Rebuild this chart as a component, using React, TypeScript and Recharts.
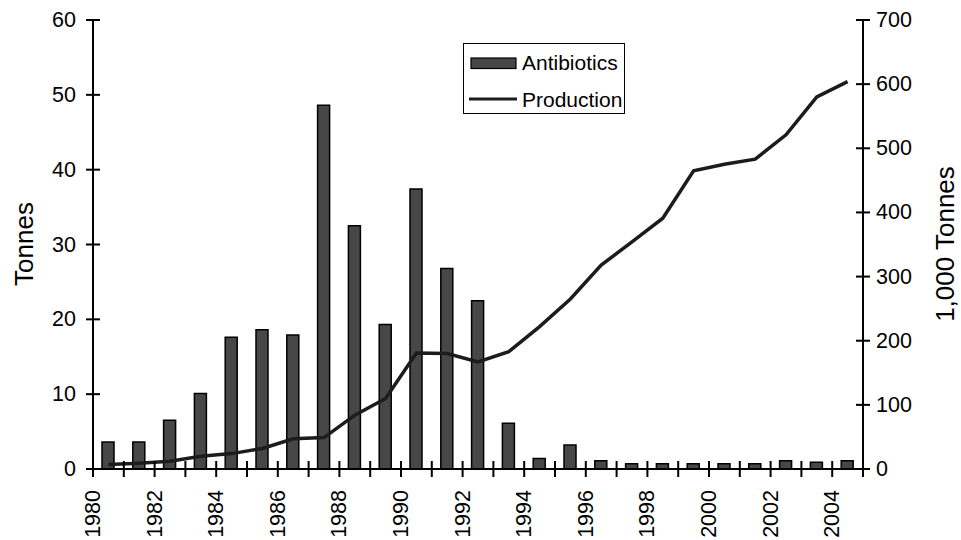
import { Bar, ComposedChart, Legend, Line, XAxis, YAxis } from 'recharts';

const YEARS = [
  '1980', '1981', '1982', '1983', '1984', '1985', '1986', '1987', '1988', '1989',
  '1990', '1991', '1992', '1993', '1994', '1995', '1996', '1997', '1998', '1999',
  '2000', '2001', '2002', '2003', '2004',
];
const LABEL_YEARS = ['1980', '1982', '1984', '1986', '1988', '1990', '1992', '1994', '1996', '1998', '2000', '2002', '2004'];

// Tonnes of antibiotics (left axis)
const ANTIBIOTICS = [
  3.6, 3.6, 6.5, 10.1, 17.6, 18.6, 17.9, 48.6, 32.5, 19.3,
  37.4, 26.8, 22.5, 6.1, 1.4, 3.2, 1.1, 0.7, 0.7, 0.7,
  0.7, 0.7, 1.1, 0.9, 1.1,
];
// Production, 1,000 tonnes (right axis)
const PRODUCTION = [
  7, 9, 12, 20, 24, 32, 47, 49, 84, 110,
  181, 180, 167, 183, 222, 265, 318, 354, 391, 465,
  475, 483, 521, 580, 604,
];

const LEFT_TICKS = [0, 10, 20, 30, 40, 50, 60];
const RIGHT_TICKS = [0, 100, 200, 300, 400, 500, 600, 700];

const data = YEARS.map((year, i) => ({
  year,
  antibiotics: ANTIBIOTICS[i],
  production: PRODUCTION[i],
}));

const W = 961;
const H = 540;
const LEFT_W = 93;
const RIGHT_W = 98;
const TOP = 20;
const X_AXIS_H = 71;
const PLOT_LEFT = LEFT_W;
const PLOT_RIGHT = W - RIGHT_W;
const PLOT_BOTTOM = H - X_AXIS_H;
const BAND = (PLOT_RIGHT - PLOT_LEFT) / YEARS.length;
const FONT = '"Liberation Sans", Arial, Helvetica, sans-serif';
const TICK_FONT = 21.5;
const BAR_FILL = '#474747';
const LINE_COLOR = '#1c1c1c';

/** Excel-style category axis: ticks and labels sit on the category boundaries. */
function YearTick(props: any) {
  const { x, payload } = props;
  const left = x - BAND / 2;
  const y = PLOT_BOTTOM;
  const ly = y + 21;
  const isLast = payload.value === YEARS[YEARS.length - 1];
  return (
    <g>
      <line x1={left} x2={left} y1={y - 8} y2={y + 8} stroke="#000" strokeWidth={2} />
      {isLast && (
        <line x1={x + BAND / 2} x2={x + BAND / 2} y1={y - 8} y2={y + 8} stroke="#000" strokeWidth={2} />
      )}
      {LABEL_YEARS.includes(payload.value) && (
        <text
          x={left}
          y={ly}
          transform={`rotate(-90 ${left} ${ly})`}
          textAnchor="end"
          dominantBaseline="central"
          fontFamily={FONT}
          fontSize={TICK_FONT}
          fill="#000"
        >
          {payload.value}
        </text>
      )}
    </g>
  );
}

function LeftTick(props: any) {
  const { y, payload } = props;
  const x = PLOT_LEFT;
  return (
    <g>
      <line x1={x - 7} x2={x + 7} y1={y} y2={y} stroke="#000" strokeWidth={2} />
      <text x={x - 17} y={y} textAnchor="end" dominantBaseline="central" fontFamily={FONT} fontSize={TICK_FONT} fill="#000">
        {payload.value}
      </text>
    </g>
  );
}

function RightTick(props: any) {
  const { y, payload } = props;
  const x = PLOT_RIGHT;
  return (
    <g>
      <line x1={x - 7} x2={x + 7} y1={y} y2={y} stroke="#000" strokeWidth={2} />
      <text x={x + 13} y={y} textAnchor="start" dominantBaseline="central" fontFamily={FONT} fontSize={TICK_FONT} fill="#000">
        {payload.value}
      </text>
    </g>
  );
}

function AxisTitle({ title, titleX, titleY }: { title: string; titleX: number; titleY: number }) {
  return (
    <text
      x={titleX}
      y={titleY}
      transform={`rotate(-90 ${titleX} ${titleY})`}
      textAnchor="middle"
      dominantBaseline="central"
      fontFamily={FONT}
      fontSize={26}
      fill="#000"
    >
      {title}
    </text>
  );
}

function LegendBox() {
  return (
    <svg width={162} height={71} style={{ display: 'block' }}>
      <rect x={0.5} y={0.5} width={161} height={70} fill="#fff" stroke="#000" strokeWidth={1} />
      <rect x={8} y={15} width={45} height={10.5} fill={BAR_FILL} stroke="#000" strokeWidth={1.2} />
      <text x={59} y={19} dominantBaseline="central" fontFamily={FONT} fontSize={21} fill="#000">
        Antibiotics
      </text>
      <line x1={6} x2={54} y1={56} y2={56} stroke={LINE_COLOR} strokeWidth={3} />
      <text x={59} y={56} dominantBaseline="central" fontFamily={FONT} fontSize={21} fill="#000">
        Production
      </text>
    </svg>
  );
}

export default function App() {
  return (
    <div style={{ position: 'absolute', left: 0, top: 0, width: W, height: H, background: '#fff' }}>
      <ComposedChart width={W} height={H} data={data} margin={{ top: TOP, right: 0, bottom: 0, left: 0 }}>
        <XAxis
          dataKey="year"
          type="category"
          height={X_AXIS_H}
          interval={0}
          tickLine={false}
          tickSize={0}
          tickMargin={0}
          axisLine={{ stroke: '#000', strokeWidth: 2 }}
          tick={<YearTick />}
        />
        <YAxis
          yAxisId="left"
          orientation="left"
          width={LEFT_W}
          domain={[0, 60]}
          ticks={LEFT_TICKS}
          interval={0}
          tickLine={false}
          tickSize={0}
          tickMargin={0}
          axisLine={{ stroke: '#000', strokeWidth: 2 }}
          tick={<LeftTick />}
          label={<AxisTitle title="Tonnes" titleX={24} titleY={244} />}
        />
        <YAxis
          yAxisId="right"
          orientation="right"
          width={RIGHT_W}
          domain={[0, 700]}
          ticks={RIGHT_TICKS}
          interval={0}
          tickLine={false}
          tickSize={0}
          tickMargin={0}
          axisLine={{ stroke: '#000', strokeWidth: 2 }}
          tick={<RightTick />}
          label={<AxisTitle title="1,000 Tonnes" titleX={945} titleY={244} />}
        />
        <Legend
          layout="horizontal"
          align="center"
          verticalAlign="middle"
          content={() => <LegendBox />}
          wrapperStyle={{ left: 463, top: 43, width: 162, height: 71 }}
        />
        <Bar
          yAxisId="left"
          dataKey="antibiotics"
          name="Antibiotics"
          barSize={12}
          fill={BAR_FILL}
          stroke="#000"
          strokeWidth={1.5}
          isAnimationActive={false}
        />
        <Line
          yAxisId="right"
          dataKey="production"
          name="Production"
          type="linear"
          stroke={LINE_COLOR}
          strokeWidth={3.5}
          dot={false}
          activeDot={false}
          isAnimationActive={false}
        />
      </ComposedChart>
    </div>
  );
}
